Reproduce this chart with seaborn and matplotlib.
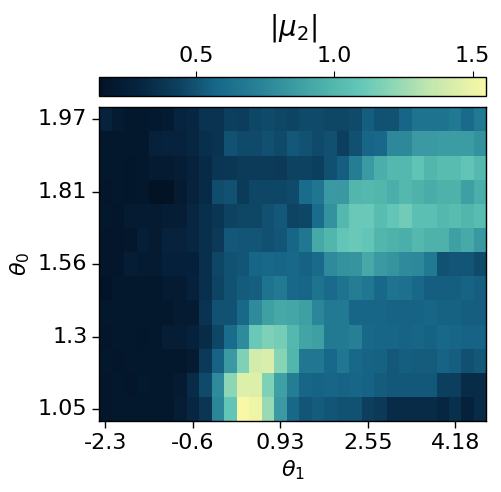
import numpy as np
import seaborn as sns
import matplotlib.pyplot as plt
from matplotlib.colors import LinearSegmentedColormap

# |mu_2| on a (theta0, theta1) grid, rows listed top to bottom (theta0 high -> low)
row_labels = ["1.97", "", "", "1.81", "", "", "1.56", "", "", "1.3", "", "", "1.05"]
col_ticks = [0, 7, 14, 21, 28]
col_tick_labels = ["-2.3", "-0.6", "0.93", "2.55", "4.18"]

mu2 = [
    [.28, .22, .19, .19, .20, .22, .29, .30, .37, .37, .43, .42, .46, .47, .46, .45, .47, .47, .46, .46, .47, .54, .50, .50, .57, .64, .64, .64, .68, .59, .68],
    [.19, .19, .19, .19, .27, .28, .28, .30, .35, .37, .50, .47, .47, .49, .47, .52, .50, .47, .49, .43, .49, .57, .58, .76, .76, .85, .85, .86, .86, .86, .81],
    [.19, .19, .18, .19, .22, .22, .24, .28, .32, .38, .39, .41, .41, .41, .40, .44, .44, .43, .49, .54, .70, .85, .95, 1.0, 1.0, 1.07, .99, 1.03, 1.03, 1.08, 1.01],
    [.18, .19, .18, .19, .15, .15, .22, .28, .32, .48, .50, .41, .46, .46, .46, .47, .60, .65, .85, .84, .99, 1.0, .99, .95, 1.0, .97, .94, .97, .97, .88, .95],
    [.19, .18, .22, .22, .22, .24, .24, .30, .35, .38, .44, .46, .46, .49, .52, .45, .46, .60, .81, 1.0, 1.11, 1.11, 1.03, 1.09, 1.13, 1.05, 1.05, 1.0, 1.03, .99, 1.03],
    [.18, .18, .19, .25, .22, .28, .28, .30, .35, .40, .52, .51, .51, .49, .51, .57, .66, .92, .99, 1.09, 1.11, 1.09, .99, .97, .95, 1.0, .97, .97, .88, .93, .84],
    [.18, .18, .24, .22, .22, .26, .26, .26, .35, .46, .50, .51, .57, .58, .57, .58, .55, .59, .77, .81, .82, .92, .85, .82, .77, .76, .68, .50, .51, .51, .47],
    [.16, .19, .19, .19, .19, .22, .22, .27, .35, .45, .50, .53, .54, .64, .68, .58, .57, .64, .59, .64, .70, .66, .58, .64, .63, .58, .54, .54, .54, .56, .54],
    [.19, .19, .19, .19, .19, .19, .22, .22, .37, .50, .50, .58, .77, .88, .92, .91, .88, .75, .68, .68, .57, .57, .57, .56, .56, .56, .57, .55, .55, .54, .54],
    [.18, .19, .19, .18, .19, .24, .24, .27, .33, .46, .60, .77, 1.11, 1.17, 1.14, 1.0, .90, .88, .68, .68, .71, .58, .57, .57, .56, .57, .55, .58, .57, .56, .56],
    [.19, .18, .19, .19, .19, .19, .19, .22, .40, .56, .85, 1.17, 1.41, 1.43, 1.19, .99, .66, .66, .58, .66, .58, .56, .55, .52, .54, .53, .53, .56, .54, .49, .52],
    [.18, .19, .18, .20, .19, .19, .22, .33, .47, .77, 1.21, 1.45, 1.45, 1.17, .88, .70, .57, .56, .57, .56, .57, .56, .53, .52, .52, .52, .52, .43, .43, .33, .33],
    [.18, .19, .19, .19, .19, .19, .24, .30, .38, .75, 1.09, 1.55, 1.51, 1.24, .85, .58, .51, .53, .51, .50, .50, .43, .40, .33, .33, .33, .33, .30, .35, .27, .33],
]

cmap = LinearSegmentedColormap.from_list("mu2", [
    (0.0, "#021326"), (0.1, "#06243f"), (0.2, "#0c3f5e"), (0.3, "#176789"),
    (0.4, "#267f95"), (0.5, "#3a9aa2"), (0.6, "#52b6ad"), (0.67, "#62c5b8"),
    (0.75, "#88d4b6"), (0.85, "#bfe6ae"), (1.0, "#f8f8a6"),
])

fig = plt.figure(figsize=(5.01, 4.92), dpi=100)
ax = fig.add_axes([0.198, 0.144, 0.773, 0.638])
cax = fig.add_axes([0.198, 0.805, 0.773, 0.039])

sns.heatmap(np.array(mu2), cmap=cmap, ax=ax, cbar_ax=cax,
            cbar_kws={"orientation": "horizontal"})

for s in ax.spines.values():
    s.set_visible(True)
    s.set_linewidth(1)

ax.set_xticks([c + 0.5 for c in col_ticks])
ax.set_xticklabels(col_tick_labels, rotation=0, fontsize=16)
yt = [i + 0.5 for i, l in enumerate(row_labels) if l]
ax.set_yticks(yt)
ax.set_yticklabels([l for l in row_labels if l], rotation=0, fontsize=16)
ax.tick_params(length=5, width=1)
ax.set_xlabel(r"$\theta_1$", fontsize=16)
ax.set_ylabel(r"$\theta_0$", fontsize=16)

cb = ax.collections[0].colorbar
cb.outline.set_linewidth(1)
cb.outline.set_visible(True)
cb.set_ticks([0.5, 1.0, 1.5])
cax.xaxis.set_ticks_position("top")
cax.xaxis.set_label_position("top")
cax.tick_params(labelsize=16, length=4)
cax.set_xlabel(r"$|\mu_2|$", fontsize=20, labelpad=8)

fig.savefig("out.png", dpi=100)
